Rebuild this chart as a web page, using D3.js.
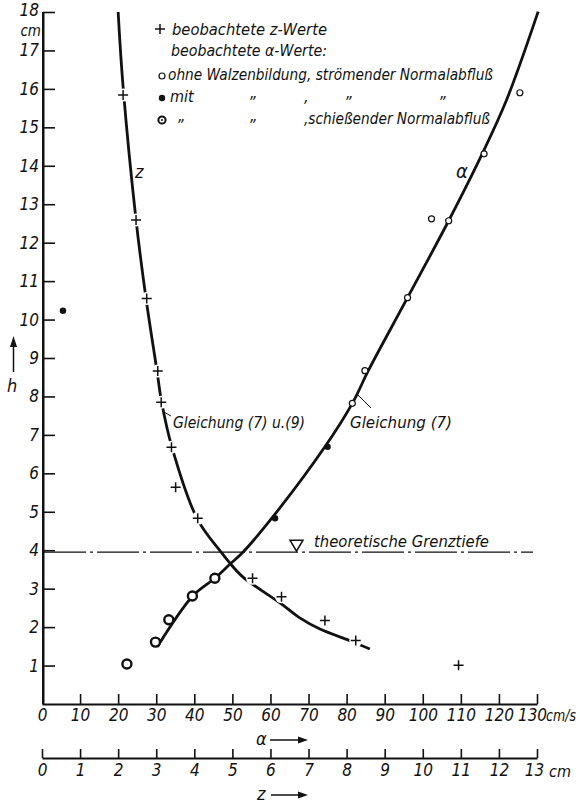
<!DOCTYPE html>
<html><head><meta charset="utf-8">
<script src="https://cdn.jsdelivr.net/npm/d3@7"></script>
<style>
body{margin:0;background:#fff;}
svg text{font-family:'Liberation Sans Narrow','DejaVu Sans Condensed',sans-serif;font-style:italic;fill:#111;}
</style></head>
<body>
<svg id="chart" width="580" height="803"></svg>
<script>
// ---- data ----
const hTicks = [1,2,3,4,5,6,7,8,9,10,11,12,13,14,15,16,17,18];
const aTicks = [0,10,20,30,40,50,60,70,80,90,100,110,120,130];
const zTicks = [0,1,2,3,4,5,6,7,8,9,10,11,12,13];

// observed z values (+): z [cm], h [cm]
const zObsZ = [2.13, 2.47, 2.75, 3.04, 3.13, 3.40, 3.51, 4.09, 5.53, 6.29, 7.43, 8.24, 10.94];
const zObsH = [15.84, 12.59, 10.55, 8.66, 7.85, 6.68, 5.64, 4.83, 3.27, 2.79, 2.17, 1.65, 1.01];

// observed alpha values: ohne Walzenbildung, strömend (open circles)
const aOpenA = [125.5, 116.1, 106.8, 102.3, 96.0, 84.8, 81.5];
const aOpenH = [15.9, 14.31, 12.57, 12.62, 10.57, 8.67, 7.82];
// mit Walzenbildung, strömend (filled dots)
const aFillA = [5.5, 61.2, 75.0];
const aFillH = [10.23, 4.83, 6.69];
// mit Walzenbildung, schießend (rings)
const aRingA = [22.3, 29.8, 33.3, 39.5, 45.4];
const aRingH = [1.04, 1.61, 2.19, 2.81, 3.27];

// curve z: Gleichung (7) u.(9)
const zCurveZ = [2.00, 2.13, 2.47, 2.73, 3.02, 3.14, 3.41, 4.08, 4.72, 4.93, 5.28, 6.25, 6.77, 7.30, 8.16, 8.61];
const zCurveH = [18.0, 16.05, 12.59, 10.56, 8.66, 7.86, 6.69, 4.81, 3.93, 3.67, 3.30, 2.63, 2.24, 1.95, 1.62, 1.43];
// curve alpha: Gleichung (7)
const aCurveA = [30.3, 39.6, 45.4, 49.6, 52.5, 60.4, 74.3, 81.5, 85.8, 96.0, 106.8, 115.6, 122.0, 130.3];
const aCurveH = [1.49, 2.81, 3.27, 3.66, 3.92, 4.84, 6.69, 7.82, 8.69, 10.57, 12.57, 14.31, 15.71, 18.01];

const hCrit = 4;

// ---- drawing ----
const svg = d3.select('#chart');
const x = d3.scaleLinear().domain([0,130]).range([42,537]);
const xz = d3.scaleLinear().domain([0,13]).range([42,537]);
const y = d3.scaleLinear().domain([0,18]).range([704,12]);
const FS = 16, TFS = 17;

function styleAxis(g){
  g.selectAll('path.domain').attr('stroke','#111').attr('stroke-width',2);
  g.selectAll('.tick line').attr('stroke','#111').attr('stroke-width',1.6);
  g.selectAll('.tick text').attr('font-size',TFS).attr('fill','#111')
    .attr('font-family',"'Liberation Sans Narrow','DejaVu Sans Condensed',sans-serif")
    .attr('font-style','italic');
}

// y axis
const gy = svg.append('g').attr('transform','translate(43,0)')
  .call(d3.axisLeft(y).tickValues(hTicks).tickSizeInner(-12).tickSizeOuter(0).tickPadding(4));
styleAxis(gy);
gy.selectAll('.tick').filter(d=>d===18).select('text').attr('dy','0.2em');
svg.append('line').attr('x1',43).attr('x2',43).attr('y1',y(0)).attr('y2',y(18)).attr('stroke','#111').attr('stroke-width',2);
svg.append('text').attr('x',41).attr('y',36).attr('text-anchor','end').attr('font-size',15).text('cm');

// alpha axis
const gx = svg.append('g').attr('transform',`translate(0,${y(0)})`)
  .call(d3.axisBottom(x).tickValues(aTicks).tickSizeInner(-10).tickSizeOuter(0).tickPadding(5));
styleAxis(gx);
gx.selectAll('.tick').filter(d=>d===0).select('line').remove();
gx.selectAll('.tick').filter(d=>d===130).select('text').attr('dx',-5);
svg.append('text').attr('x',x(130)+9).attr('y',721).attr('font-size',FS)
  .attr('textLength',30).attr('lengthAdjust','spacingAndGlyphs').text('cm/s');
svg.append('text').attr('x',256).attr('y',745).attr('font-size',18).text('α');
svg.append('line').attr('x1',270).attr('x2',300).attr('y1',740).attr('y2',740).attr('stroke','#111').attr('stroke-width',1.5);
svg.append('path').attr('d',d3.line()([[298,736.5],[308,740],[298,743.5]])+'Z').attr('fill','#111');

// z axis
const gz = svg.append('g').attr('transform','translate(0,758)')
  .call(d3.axisBottom(xz).tickValues(zTicks).tickSizeInner(-9).tickSizeOuter(0).tickPadding(6));
styleAxis(gz);
gz.selectAll('.tick').filter(d=>d===13).select('text').attr('dx',-3);
svg.append('text').attr('x',xz(13)+12).attr('y',777).attr('font-size',FS).text('cm');
svg.append('text').attr('x',257).attr('y',800).attr('font-size',18).text('z');
svg.append('line').attr('x1',271).attr('x2',300).attr('y1',795).attr('y2',795).attr('stroke','#111').attr('stroke-width',1.5);
svg.append('path').attr('d',d3.line()([[298,791.5],[308,795],[298,798.5]])+'Z').attr('fill','#111');

// h arrow label
svg.append('line').attr('x1',13.5).attr('x2',13.5).attr('y1',345).attr('y2',372).attr('stroke','#111').attr('stroke-width',1.5);
svg.append('path').attr('d',d3.line()([[10,347],[13.5,336],[17,347]])+'Z').attr('fill','#111');
svg.append('text').attr('x',7).attr('y',392).attr('font-size',18).text('h');

// critical depth line
svg.append('line').attr('x1',44).attr('x2',533).attr('y1',y(hCrit)+2).attr('y2',y(hCrit)+2)
  .attr('stroke','#111').attr('stroke-width',1.3).attr('stroke-dasharray','42,4,3,4');
svg.append('path').attr('d',d3.line()([[290,y(hCrit)-10],[303,y(hCrit)-10],[296.5,y(hCrit)+1]])+'Z')
  .attr('fill','none').attr('stroke','#111').attr('stroke-width',1.5);
svg.append('text').attr('x',314).attr('y',y(hCrit)-3).attr('font-size',FS)
  .attr('textLength',175).attr('lengthAdjust','spacingAndGlyphs').text('theoretische Grenztiefe');

// curves
const lineZ = d3.line().x(d=>xz(d[0])).y(d=>y(d[1])).curve(d3.curveCatmullRom.alpha(0.5));
svg.append('path').datum(zCurveZ.map((v,i)=>[v,zCurveH[i]])).attr('d',lineZ)
  .attr('fill','none').attr('stroke','#111').attr('stroke-width',2.8);
const lineA = d3.line().x(d=>x(d[0])).y(d=>y(d[1])).curve(d3.curveCatmullRom.alpha(0.5));
svg.append('path').datum(aCurveA.map((v,i)=>[v,aCurveH[i]])).attr('d',lineA)
  .attr('fill','none').attr('stroke','#111').attr('stroke-width',2.8);

// crosses
const zPts = zObsZ.map((v,i)=>[v,zObsH[i]]);
svg.selectAll('circle.halo').data(zPts).enter().append('circle')
  .attr('cx',d=>xz(d[0])).attr('cy',d=>y(d[1])).attr('r',6.5).attr('fill','#fff');
svg.selectAll('path.cross').data(zPts).enter().append('path')
  .attr('transform',d=>`translate(${xz(d[0])},${y(d[1])})`)
  .attr('d','M-5,0H5M0,-5V5').attr('stroke','#111').attr('stroke-width',1.5);

// open circles
svg.selectAll('circle.open').data(aOpenA.map((v,i)=>[v,aOpenH[i]])).enter().append('circle')
  .attr('cx',d=>x(d[0])).attr('cy',d=>y(d[1])).attr('r',3).attr('fill','#fff').attr('stroke','#111').attr('stroke-width',1.2);
// filled dots
svg.selectAll('circle.fill').data(aFillA.map((v,i)=>[v,aFillH[i]])).enter().append('circle')
  .attr('cx',d=>x(d[0])).attr('cy',d=>y(d[1])).attr('r',3.2).attr('fill','#111');
// rings
svg.selectAll('circle.ring').data(aRingA.map((v,i)=>[v,aRingH[i]])).enter().append('circle')
  .attr('cx',d=>x(d[0])).attr('cy',d=>y(d[1])).attr('r',4.5).attr('fill','#fff').attr('stroke','#111').attr('stroke-width',2.4);

// curve labels
svg.append('text').attr('x',135).attr('y',178).attr('font-size',18).text('z');
svg.append('text').attr('x',456).attr('y',178).attr('font-size',20).text('α');
svg.append('line').attr('x1',162).attr('y1',411).attr('x2',171).attr('y2',416).attr('stroke','#111').attr('stroke-width',1);
svg.append('text').attr('x',173).attr('y',428).attr('font-size',FS)
  .attr('textLength',132).attr('lengthAdjust','spacingAndGlyphs').text('Gleichung (7) u.(9)');
svg.append('line').attr('x1',358).attr('y1',395).attr('x2',371).attr('y2',408).attr('stroke','#111').attr('stroke-width',1);
svg.append('text').attr('x',350).attr('y',428).attr('font-size',FS)
  .attr('textLength',102).attr('lengthAdjust','spacingAndGlyphs').text('Gleichung (7)');

// legend
const lg = svg.append('g');
lg.append('path').attr('transform','translate(160,29)').attr('d','M-5,0H5M0,-5V5').attr('stroke','#111').attr('stroke-width',1.5);
lg.append('text').attr('x',172).attr('y',35).attr('font-size',FS)
  .attr('textLength',155).attr('lengthAdjust','spacingAndGlyphs').text('beobachtete z-Werte');
lg.append('text').attr('x',171).attr('y',56).attr('font-size',FS)
  .attr('textLength',156).attr('lengthAdjust','spacingAndGlyphs').text('beobachtete α-Werte:');
lg.append('circle').attr('cx',162).attr('cy',76).attr('r',3).attr('fill','#fff').attr('stroke','#111').attr('stroke-width',1.2);
lg.append('text').attr('x',168).attr('y',80).attr('font-size',FS)
  .attr('textLength',325).attr('lengthAdjust','spacingAndGlyphs').text('ohne Walzenbildung, strömender Normalabfluß');
lg.append('circle').attr('cx',162).attr('cy',98).attr('r',3.2).attr('fill','#111');
lg.append('text').attr('x',170).attr('y',102).attr('font-size',FS).text('mit');
const ditto = (xx,yy)=>lg.append('text').attr('x',xx).attr('y',yy).attr('font-size',FS).text('„');
ditto(250,98); lg.append('text').attr('x',304).attr('y',102).attr('font-size',FS).text(','); ditto(346,98); ditto(440,98);
lg.append('circle').attr('cx',162).attr('cy',120).attr('r',3.6).attr('fill','#fff').attr('stroke','#111').attr('stroke-width',2);
lg.append('circle').attr('cx',162).attr('cy',120).attr('r',1).attr('fill','#111');
ditto(178,121); ditto(250,121);
lg.append('text').attr('x',304).attr('y',124).attr('font-size',FS)
  .attr('textLength',186).attr('lengthAdjust','spacingAndGlyphs').text(',schießender Normalabfluß');
</script>
</body></html>
